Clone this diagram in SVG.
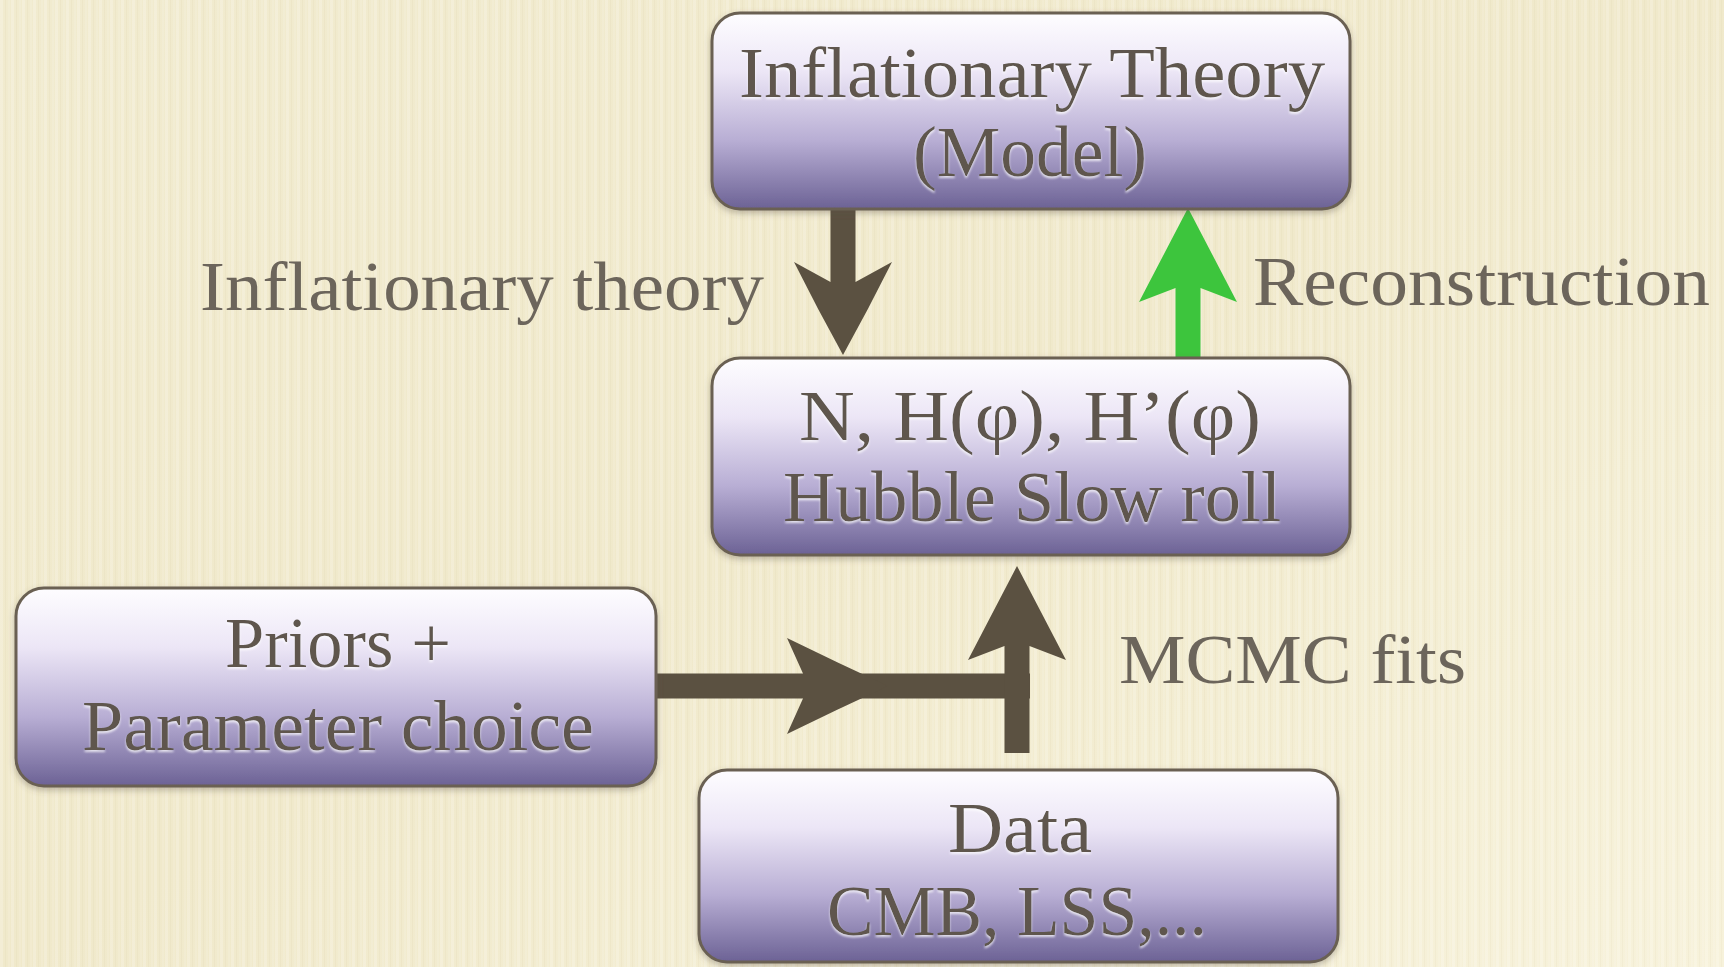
<svg xmlns="http://www.w3.org/2000/svg" width="1724" height="967" viewBox="0 0 1724 967">
  <defs>
    <linearGradient id="bg" x1="0" y1="0" x2="1" y2="1">
      <stop offset="0" stop-color="#f1ebcf"/>
      <stop offset="0.5" stop-color="#f0e9cb"/>
      <stop offset="1" stop-color="#f7f2db"/>
    </linearGradient>
    <pattern id="stripes" width="11" height="967" patternUnits="userSpaceOnUse">
      <rect x="0" y="0" width="3" height="967" fill="#ffffff" opacity="0.2"/>
      <rect x="5" y="0" width="1" height="967" fill="#b8a978" opacity="0.07"/>
      <rect x="8" y="0" width="2" height="967" fill="#ffffff" opacity="0.1"/>
    </pattern>
    <linearGradient id="boxfill" x1="0" y1="0" x2="0" y2="1">
      <stop offset="0" stop-color="#fefdff"/>
      <stop offset="0.3" stop-color="#ece6f6"/>
      <stop offset="0.65" stop-color="#b8aed4"/>
      <stop offset="1" stop-color="#6c6295"/>
    </linearGradient>
    <filter id="tshadow" x="-5%" y="-20%" width="110%" height="150%">
      <feDropShadow dx="0" dy="2" stdDeviation="1" flood-color="#ffffff" flood-opacity="0.75"/>
    </filter>
    <filter id="bshadow" x="-5%" y="-10%" width="110%" height="125%">
      <feDropShadow dx="0" dy="3" stdDeviation="3" flood-color="#5a5040" flood-opacity="0.35"/>
    </filter>
  </defs>
  <style>
    .box { fill: url(#boxfill); stroke: #6a6152; stroke-width: 3; filter: url(#bshadow); }
    .btxt { font-family: "Liberation Serif", "Times New Roman", serif; font-size: 72px; fill: #5e574d; text-anchor: middle; filter: url(#tshadow); }
    .lbl { font-family: "Liberation Serif", "Times New Roman", serif; font-size: 70px; fill: #6c655b; }
    .brown { fill: #5b5141; }
    .green { fill: #3dc53d; }
  </style>

  <rect x="0" y="0" width="1724" height="967" fill="url(#bg)"/>
  <rect x="0" y="0" width="1724" height="967" fill="url(#stripes)"/>

  <g id="connectors">
    <!-- Inflationary theory: down arrow -->
    <path class="brown" d="M830.5,207 L830.5,282 L794,262 Q818,310 843,355 Q868,310 892,262 L855.5,282 L855.5,207 Z"/>
    <!-- Reconstruction: green up arrow -->
    <path class="green" d="M1175.5,358 L1175.5,288 L1139,302 Q1164,254 1188,208 Q1212,254 1237,302 L1200.5,288 L1200.5,358 Z"/>
    <!-- Priors horizontal arrow -->
    <rect class="brown" x="655" y="673.5" width="375" height="25"/>
    <path class="brown" d="M803,673.5 L787,638 Q838,663 888,686 Q838,709 787,734 L803,698.5 Z"/>
    <!-- MCMC fits: up arrow -->
    <path class="brown" d="M1004.5,753 L1004.5,646 L968,660 Q993,612 1017,566 Q1041,612 1066,660 L1029.5,646 L1029.5,753 Z"/>
  </g>

  <g id="node-theory">
    <rect class="box" x="712" y="13" width="638" height="196" rx="28"/>
    <text class="btxt" x="1032" y="97" textLength="586" lengthAdjust="spacingAndGlyphs">Inflationary Theory</text>
    <text class="btxt" x="1030" y="176" textLength="234" lengthAdjust="spacingAndGlyphs">(Model)</text>
  </g>

  <g id="node-hubble">
    <rect class="box" x="712" y="358" width="638" height="197" rx="28"/>
    <text class="btxt" x="1030" y="440" textLength="462" lengthAdjust="spacingAndGlyphs">N, H(φ), H’(φ)</text>
    <text class="btxt" x="1032" y="521" textLength="498" lengthAdjust="spacingAndGlyphs">Hubble Slow roll</text>
  </g>

  <g id="node-priors">
    <rect class="box" x="16" y="588" width="640" height="198" rx="28"/>
    <text class="btxt" x="338" y="667" textLength="226" lengthAdjust="spacingAndGlyphs">Priors +</text>
    <text class="btxt" x="338" y="750" textLength="512" lengthAdjust="spacingAndGlyphs">Parameter choice</text>
  </g>

  <g id="node-data">
    <rect class="box" x="699" y="770" width="639" height="192" rx="28"/>
    <text class="btxt" x="1020" y="852" textLength="144" lengthAdjust="spacingAndGlyphs">Data</text>
    <text class="btxt" x="1017" y="935" textLength="380" lengthAdjust="spacingAndGlyphs">CMB, LSS,...</text>
  </g>

  <g id="labels">
    <text class="lbl" x="200" y="310" textLength="564" lengthAdjust="spacingAndGlyphs">Inflationary theory</text>
    <text class="lbl" x="1253" y="305" textLength="457" lengthAdjust="spacingAndGlyphs">Reconstruction</text>
    <text class="lbl" x="1119" y="683" textLength="347" lengthAdjust="spacingAndGlyphs">MCMC fits</text>
  </g>
</svg>
